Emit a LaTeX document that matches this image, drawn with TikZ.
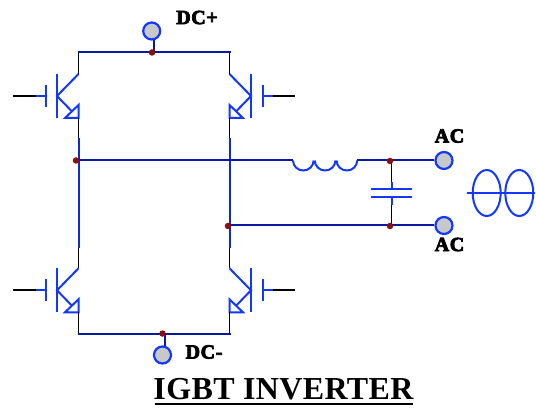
\documentclass[tikz,border=0pt]{standalone}
\usepackage{fontspec}
\setmainfont{Liberation Serif}
\newfontfamily\fatlabel[BoldFeatures={FakeBold=4,LetterSpace=3}]{Liberation Serif}
\newfontfamily\fattitle[BoldFeatures={LetterSpace=1.2}]{Liberation Serif}
\definecolor{brightblue}{HTML}{1238FF}
\definecolor{busblue}{HTML}{0A1AA0}
\definecolor{dotred}{HTML}{8B0F0F}
\definecolor{termgray}{HTML}{C8C8C8}
\tikzset{
  part/.style={draw=brightblue,line width=2pt},
  bus/.style={draw=busblue,line width=2pt},
  lead/.style={draw=black,line width=1.8pt},
  junction/.style={circle,fill=dotred,inner sep=0pt,minimum size=6.5pt},
  terminal/.style={circle,draw=brightblue,fill=termgray,line width=2.2pt,inner sep=0pt,minimum size=17pt},
  smalllabel/.style={font=\fatlabel\bfseries\fontsize{20}{20}\selectfont,inner sep=0pt,anchor=center},
}
% #1 name, #2 gate y, #3 device rail x, #4 direction (+1 = gate on the left)
\newcommand{\igbtdevice}[4]{%
  \begin{scope}[shift={(#3,#2)},x={(#4*1pt,0pt)}]
    \coordinate (#1col) at (0,-22);
    \coordinate (#1emi) at (0,22);
    \coordinate (#1bar) at (-21.5,0);
    \coordinate (#1plt) at (-33,0);
    \coordinate (#1mid) at (-43,0);
    \coordinate (#1end) at (-65.5,0);
    \draw[part] (#1bar)++(0,-22) -- ++(0,44);
    \draw[part] (#1plt)++(0,-11) -- ++(0,22);
    \draw[part] (#1plt) -- (#1mid);
    \draw[lead] (#1mid) -- (#1end);
    \draw[part] (#1col) -- (#1bar) -- (-7,15);
    \draw[part,line join=miter] (0,9) -- (0,22) -- (-13.5,22) -- cycle;
  \end{scope}}
\begin{document}
\begin{tikzpicture}[x=1pt,y=-1pt]
\useasboundingbox (0,0) rectangle (536,409);
% nodes
\node[terminal] (dcp) at (151.7,31) {};
\node[terminal] (dcm) at (162.5,355) {};
\node[terminal] (acu) at (444,160.5) {};
\node[terminal] (acl) at (444,225.5) {};
\coordinate (topL) at (78.5,52.5);
\coordinate (topR) at (229.5,52.5);
\coordinate (botL) at (78.5,333.5);
\coordinate (botR) at (229.5,333.5);
\igbtdevice{qa}{96}{78.5}{1}
\igbtdevice{qb}{96}{229.5}{-1}
\igbtdevice{qc}{290.3}{78.5}{1}
\igbtdevice{qd}{290.3}{229.5}{-1}
\coordinate (legLa) at (78.5,138);
\coordinate (legLb) at (78.5,248);
\coordinate (legRa) at (229.5,138);
\coordinate (legRb) at (229.5,248);
\coordinate (indL) at (293,160.5);
\coordinate (indR) at (357,160.5);
\coordinate (capU) at (391.5,160.5);
\coordinate (capL) at (391.5,225.5);
\coordinate (pltU) at (391.5,189);
\coordinate (pltL) at (391.5,197.5);
% black leads
\draw[lead] (topL) -- (qacol);
\draw[lead] (topR) -- (qbcol);
\draw[lead] (qaemi) -- (legLa);
\draw[lead] (qbemi) -- (legRa);
\draw[lead] (legLb) -- (qccol);
\draw[lead] (legRb) -- (qdcol);
\draw[lead] (qcemi) -- (botL);
\draw[lead] (qdemi) -- (botR);
\draw[lead] (capU) -- (391.5,182);
\draw[lead] (391.5,205) -- (capL);
% blue verticals
\draw[bus,draw=brightblue!55!busblue] (legLa) -- (legLb);
\draw[bus,draw=brightblue!55!busblue] (legRa) -- (legRb);
% buses
\draw[bus,line cap=rect] (topL) -- (topR);
\draw[bus,line cap=rect] (botL) -- (botR);
\draw[bus] (76,160.5) -- (indL);
\draw[bus] (indR) -- (acu.west);
\draw[bus] (228,225.5) -- (acl.west);
\coordinate (stemP) at (154,52.5);
\coordinate (stemM) at (164.5,333.5);
\draw[bus] (stemP) -- (154,40);
\draw[bus] (stemM) -- (164.5,346);
% inductor
\draw[part] (indL) arc[start angle=180,end angle=0,x radius=10.3,y radius=10]
  ++(1.2,0) arc[start angle=180,end angle=0,x radius=10.3,y radius=10]
  ++(1.2,0) arc[start angle=180,end angle=0,x radius=10.3,y radius=10];
% capacitor
\draw[part] (371,189) -- (412,189);
\draw[part] (371,197.5) -- (412,197.5);
\draw[part] (391.5,182) -- (pltU);
\draw[part] (pltL) -- (391.5,205);
% ellipses
\draw[part] (486.7,193) ellipse[x radius=14,y radius=23];
\draw[part] (519.3,193) ellipse[x radius=14,y radius=23];
\coordinate (wl) at (467,193);
\coordinate (wr) at (535,193);
\draw[part] (wl) -- (wr);
% junctions
\node[junction] at (152,52.5) {};
\node[junction] at (162.5,333.5) {};
\node[junction] at (76,160.5) {};
\node[junction] at (228,226) {};
\node[junction] at (390,161) {};
\node[junction] at (390,226) {};
% labels
\node[smalllabel] (tp) at (197,17.5) {DC+};
\node[smalllabel] (tm) at (204,352) {DC-};
\node[smalllabel] (t1) at (449.5,136) {AC};
\node[smalllabel] (t2) at (449.5,244.5) {AC};
\node[inner sep=0pt,font=\fattitle\bfseries\fontsize{32}{32}\selectfont] (title) at (283.5,389.5) {IGBT INVERTER};
\coordinate (ul) at (154.5,404);
\coordinate (ur) at (413,404);
\draw[line width=1.5pt] (ul) -- (ur);
\end{tikzpicture}
\end{document}
